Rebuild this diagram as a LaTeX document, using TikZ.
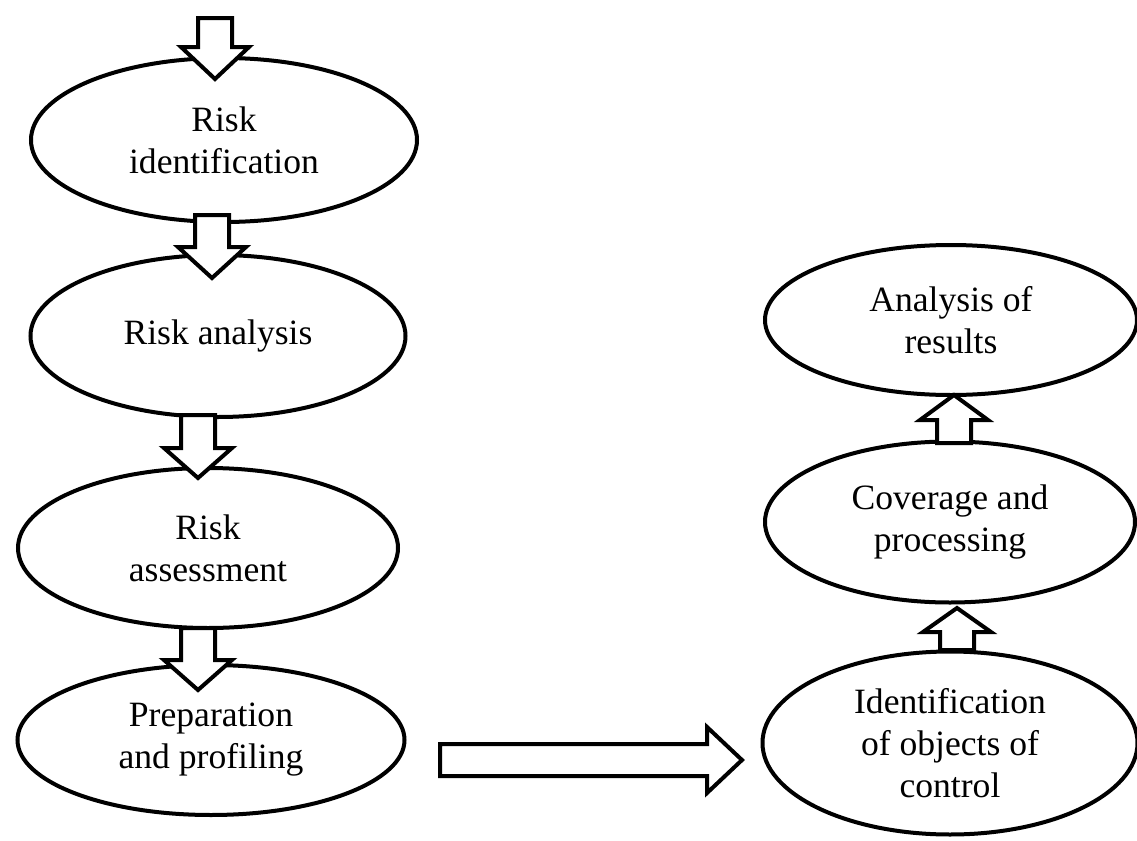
\documentclass[tikz,border=0pt]{standalone}
\usepackage{fontspec}
\setmainfont{Liberation Serif}
\usetikzlibrary{shapes.geometric}

\begin{document}
\begin{tikzpicture}[
  x=0.5pt,
  y=-0.5pt,
  line join=miter,
  stage/.style={ellipse,draw=black,line width=2pt,fill=white,align=center,
    inner sep=0pt,font=\fontsize{17.8}{21}\selectfont},
  blockarrow/.style={draw=black,fill=white,line width=2pt}
]
  \useasboundingbox (0,0) rectangle (1137,841);

  % Hollow block arrows: centre line, shaft start, head base, tip.
  \newcommand{\drawblockdown}[4]{%
    \draw[blockarrow] ({#1-17},#2) -- ({#1+17},#2) -- ({#1+17},#3) -- ({#1+34},#3)
      -- (#1,#4) -- ({#1-34},#3) -- ({#1-17},#3) -- cycle;
  }
  \newcommand{\drawblockright}[4]{%
    \draw[blockarrow] (#2,{#1-16}) -- (#3,{#1-16}) -- (#3,{#1-33}) -- (#4,#1)
      -- (#3,{#1+33}) -- (#3,{#1+16}) -- (#2,{#1+16}) -- cycle;
  }

  % Left column: the risk stages.
  \node[stage,minimum width=193pt,minimum height=82pt] (ident) at (224,140) {Risk\\identification};
  \node[stage,minimum width=187.5pt,minimum height=81pt] (analysis) at (218,336) {Risk analysis};
  \node[stage,minimum width=190pt,minimum height=80pt] (assess) at (208,548) {Risk\\assessment};
  \node[stage,minimum width=193.5pt,minimum height=75pt] (prep) at (211,740) {Preparation\\and profiling};

  % Right column: the control stages.
  \node[stage,minimum width=186pt,minimum height=75pt] (results) at (951,320) {Analysis of\\results};
  \node[stage,minimum width=185pt,minimum height=80.5pt] (coverage) at (950,522) {Coverage and\\processing};
  \node[stage,minimum width=187.5pt,minimum height=91.5pt] (objects) at (950,743) {Identification\\of objects of\\control};

  % Arrows down the left column.
  \drawblockdown{215}{18}{47}{79}
  \drawblockdown{212}{215}{247}{278}
  \drawblockdown{198}{415}{448}{478}
  \drawblockdown{198}{628}{660}{690}

  % Arrows up the right column (tip above the head base).
  \drawblockdown{954}{443}{420}{395}
  \drawblockdown{957}{650}{632}{608}

  % Across to the right column.
  \drawblockright{760}{440}{707}{742}
\end{tikzpicture}
\end{document}
